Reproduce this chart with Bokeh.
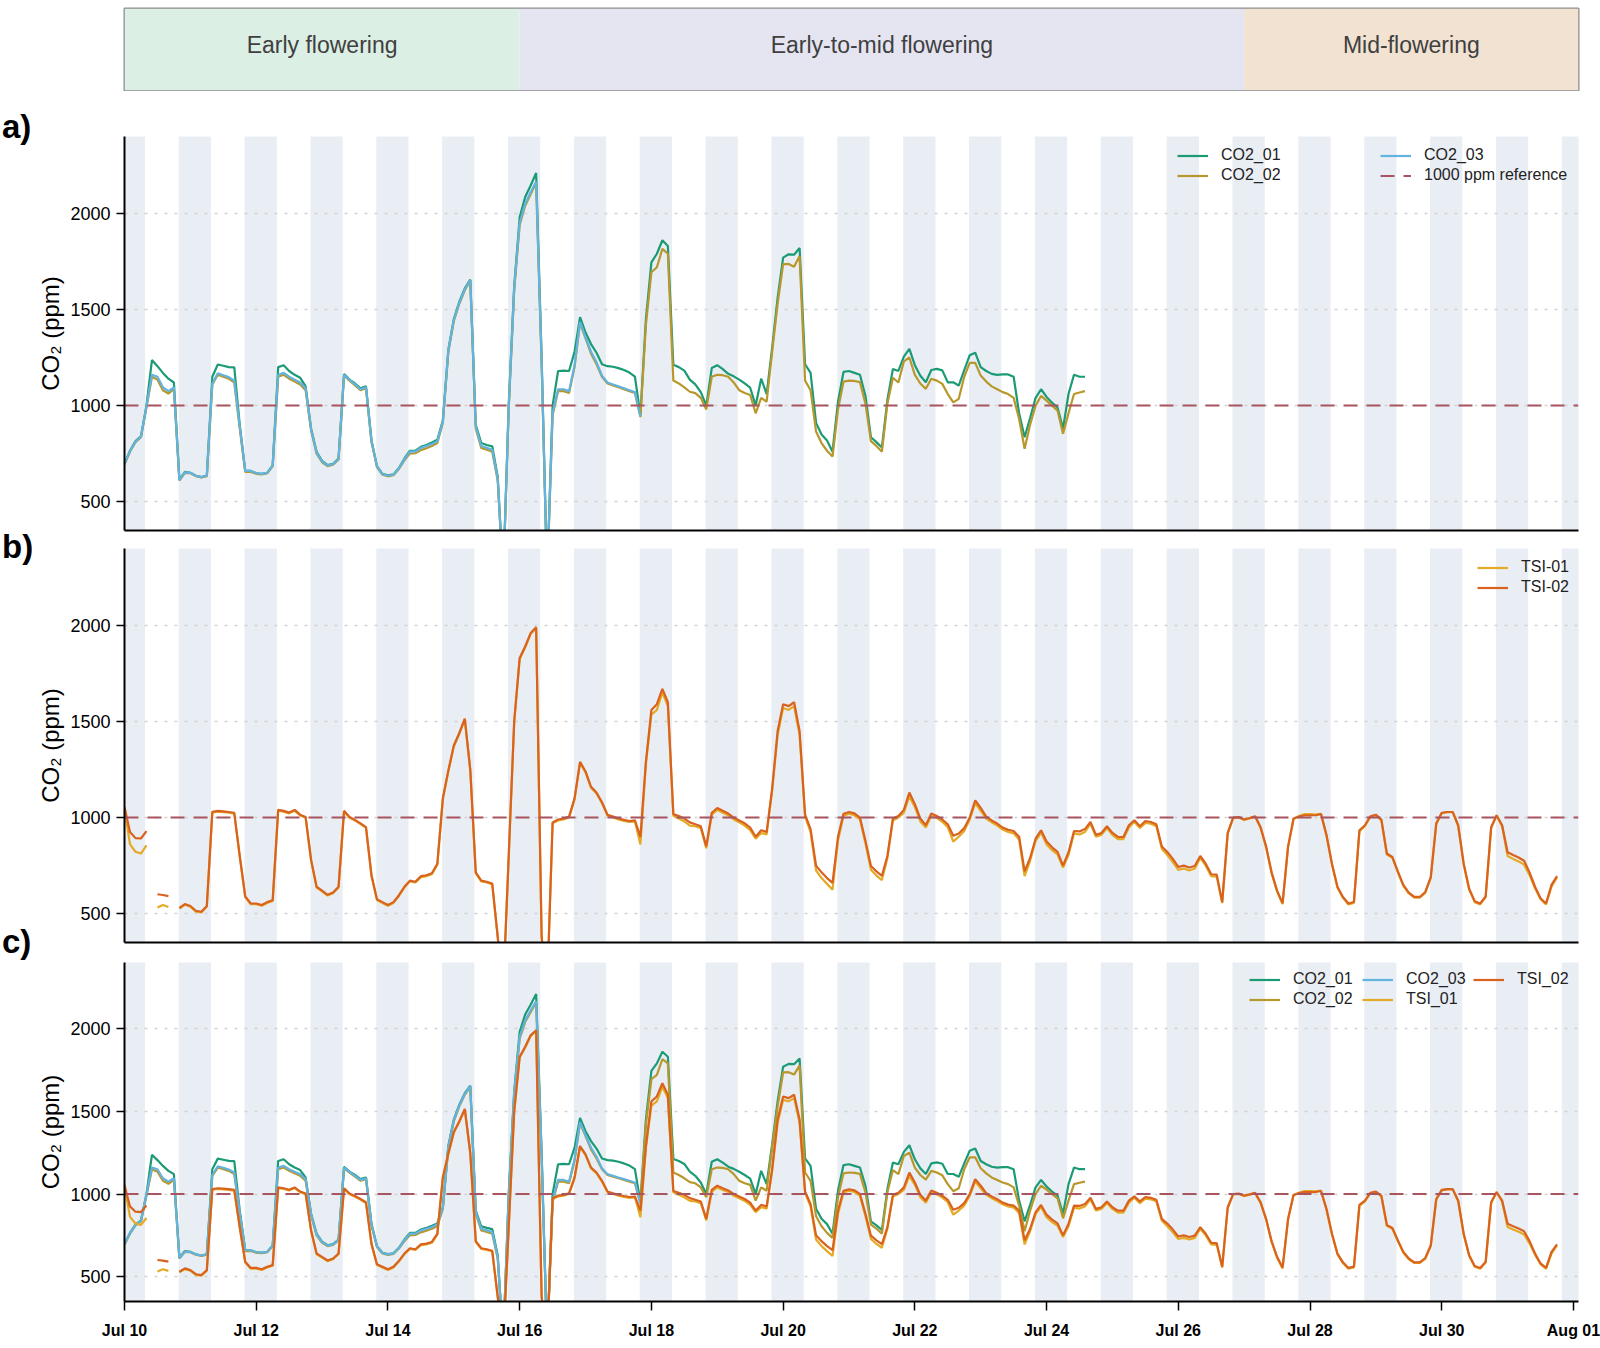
import pandas as pd
from bokeh.plotting import figure
from bokeh.layouts import column, row
from bokeh.models import (Range1d, FixedTicker, DatetimeTickFormatter, Legend,
                          LegendItem)
from bokeh.embed import file_html
from bokeh.resources import INLINE
from bokeh.core.properties import value

nan = float("nan")

# ---------------------------------------------------------------- data
series_start = "2024-07-10 00:00"
sample_step = "2h"
axis_start = "2024-07-10 00:00"
axis_end = "2024-08-01 01:50"

# CO2 sensors, ppm, every 2 h from Jul 10 00:00 (one row per day)
co2_01 = [
    697, 765, 815, 840, 1000, 1237, 1205, 1170, 1140, 1120, 615, 655,
    650, 635, 628, 635, 1150, 1214, 1207, 1200, 1199, 900, 660, 660,
    648, 645, 650, 689, 1200, 1210, 1180, 1160, 1145, 1100, 880, 760,
    712, 690, 697, 725, 1164, 1135, 1115, 1090, 1100, 820, 685, 645,
    637, 642, 675, 725, 765, 765, 785, 795, 808, 822, 922, 1290,
    1450, 1540, 1610, 1655, 900, 805, 795, 788, 630, 100, 1000, 1620,
    1980, 2085, 2145, 2210, 1250, 100, 1000, 1180, 1182, 1180, 1280, 1460,
    1380, 1320, 1275, 1215, 1205, 1202, 1195, 1185, 1172, 1150, 950, 1450,
    1745, 1790, 1860, 1830, 1212, 1200, 1182, 1135, 1110, 1070, 1000, 1195,
    1210, 1190, 1165, 1152, 1135, 1115, 1093, 1000, 1140, 1060, 1300, 1560,
    1770, 1787, 1785, 1820, 1215, 1170, 910, 850, 818, 760, 1020, 1175,
    1180, 1170, 1160, 1050, 835, 810, 782, 1030, 1190, 1180, 1255, 1295,
    1210, 1155, 1121, 1185, 1191, 1183, 1121, 1121, 1104, 1185, 1262, 1275,
    1200, 1180, 1165, 1160, 1162, 1162, 1150, 960, 835, 935, 1040, 1085,
    1045, 1015, 990, 880, 1060, 1160, 1150, 1150,
]
co2_02 = [
    695, 760, 810, 835, 990, 1150, 1135, 1080, 1062, 1085, 610, 650,
    648, 633, 626, 633, 1110, 1160, 1150, 1140, 1120, 880, 655, 655,
    645, 642, 648, 685, 1150, 1160, 1140, 1125, 1110, 1080, 870, 750,
    705, 685, 692, 720, 1155, 1130, 1105, 1080, 1090, 810, 680, 640,
    632, 638, 670, 715, 750, 752, 768, 778, 790, 805, 910, 1280,
    1440, 1530, 1600, 1650, 880, 780, 770, 760, 610, 100, 980, 1600,
    1940, 2040, 2100, 2160, 1220, 100, 950, 1075, 1075, 1065, 1200, 1430,
    1350, 1270, 1215, 1150, 1115, 1105, 1095, 1085, 1075, 1065, 940, 1420,
    1694, 1720, 1815, 1790, 1130, 1115, 1095, 1072, 1065, 1040, 980, 1150,
    1160, 1158, 1150, 1120, 1080, 1065, 1055, 960, 1040, 1020, 1280, 1530,
    1735, 1737, 1722, 1778, 1130, 1080, 865, 805, 765, 735, 980, 1125,
    1130, 1128, 1122, 1010, 815, 790, 760, 1010, 1145, 1120, 1230, 1250,
    1160, 1115, 1087, 1140, 1130, 1113, 1060, 1017, 1035, 1150, 1222, 1222,
    1156, 1125, 1100, 1085, 1070, 1060, 1040, 930, 775, 900, 1000, 1050,
    1026, 1000, 974, 853, 960, 1060, 1068, 1075,
]
co2_03 = [
    697, 762, 812, 838, 995, 1160, 1150, 1095, 1075, 1095, 612, 652,
    650, 635, 628, 635, 1115, 1168, 1158, 1148, 1130, 890, 660, 660,
    648, 645, 650, 689, 1160, 1170, 1150, 1135, 1120, 1090, 875, 755,
    710, 688, 695, 722, 1160, 1133, 1110, 1085, 1095, 815, 683, 643,
    635, 640, 673, 720, 760, 760, 780, 790, 800, 815, 915, 1285,
    1445, 1535, 1605, 1652, 890, 790, 780, 770, 620, 100, 990, 1610,
    1950, 2050, 2110, 2165, 1230, 100, 960, 1085, 1085, 1075, 1210, 1435,
    1355, 1280, 1225, 1155, 1120, 1110, 1100, 1090, 1080, 1070, 945,
]
# TSI sensors, ppm, every 2 h from Jul 10 00:00 (nan = no reading)
tsi_01 = [
    1050, 862, 822, 813, 855, nan, 532, 545, 535, nan, 527, 546,
    536, 511, 506, 536, 1026, 1031, 1028, 1025, 1021, 796, 586, 549,
    549, 541, 556, 566, 1036, 1031, 1022, 1036, 1011, 999, 776, 636,
    616, 594, 606, 636, 1031, 999, 984, 966, 946, 696, 571, 556,
    541, 556, 592, 636, 668, 662, 690, 695, 705, 755, 1095, 1240,
    1370, 1435, 1510, 1245, 710, 668, 662, 652, 375, 100, 795, 1495,
    1825, 1885, 1955, 1985, 375, 100, 970, 985, 990, 1000, 1095, 1285,
    1235, 1155, 1125, 1075, 1010, 1000, 990, 983, 977, 980, 860, 1280,
    1535, 1560, 1650, 1580, 1010, 995, 980, 958, 955, 945, 840, 1015,
    1040, 1025, 1012, 990, 975, 958, 935, 890, 920, 912, 1140, 1430,
    1570, 1560, 1580, 1430, 1005, 925, 725, 685, 655, 625, 880, 1010,
    1020, 1012, 990, 865, 728, 698, 675, 790, 985, 1000, 1025, 1110,
    1055, 980, 948, 1010, 998, 978, 950, 875, 900, 930, 990, 1075,
    1035, 995, 975, 958, 938, 925, 918, 885, 695, 775, 878, 922,
    860, 830, 808, 740, 805, 918, 912, 925, 968, 900, 910, 945,
    910, 888, 888, 948, 978, 945, 972, 968, 955, 838, 805, 768,
    728, 735, 725, 735, 790, 750, 695, 693, 555, 915, 998, 1000,
    988, 996, 1005, 945, 845, 710, 615, 550, 845, 993, 1008, 1018,
    1018, 1016, 1020, 905, 755, 635, 582, 548, 556, 928, 955, 1005,
    1012, 985, 808, 790, 715, 645, 605, 583, 583, 608, 685, 965,
    1022, 1028, 1028, 955, 755, 625, 560, 548, 585, 945, 1010, 955,
    800, 785, 772, 755, 700, 632, 575, 548, 640, 690,
]
tsi_02 = [
    1055, 925, 893, 891, 930, nan, 601, 597, 591, nan, 530, 550,
    540, 515, 510, 540, 1030, 1035, 1032, 1029, 1025, 800, 590, 553,
    553, 545, 560, 570, 1040, 1035, 1026, 1040, 1015, 1003, 780, 640,
    620, 598, 610, 640, 1035, 1003, 988, 970, 950, 700, 575, 560,
    545, 560, 596, 640, 672, 666, 695, 700, 710, 760, 1100, 1245,
    1375, 1440, 1515, 1250, 715, 672, 666, 657, 380, 100, 800, 1500,
    1830, 1890, 1960, 1990, 380, 100, 975, 990, 995, 1005, 1100, 1290,
    1240, 1160, 1130, 1080, 1015, 1005, 995, 988, 982, 985, 900, 1290,
    1560, 1590, 1670, 1600, 1018, 1008, 995, 975, 965, 955, 850, 1025,
    1050, 1035, 1021, 1000, 985, 970, 948, 900, 934, 925, 1150, 1450,
    1590, 1580, 1600, 1450, 1015, 940, 750, 715, 685, 660, 900, 1020,
    1029, 1022, 1000, 880, 748, 720, 697, 800, 995, 1008, 1040, 1130,
    1070, 995, 960, 1021, 1008, 990, 965, 905, 917, 945, 1000, 1090,
    1050, 1005, 985, 969, 948, 936, 930, 900, 720, 790, 890, 934,
    875, 845, 822, 750, 820, 930, 928, 940, 977, 910, 920, 955,
    920, 899, 899, 960, 986, 955, 982, 977, 965, 850, 821, 785,
    743, 750, 740, 748, 800, 760, 705, 703, 560, 920, 1000, 1003,
    990, 998, 1007, 950, 850, 715, 620, 555, 850, 995, 1005, 1012,
    1012, 1012, 1018, 910, 760, 640, 587, 553, 561, 934, 960, 1007,
    1015, 990, 813, 795, 720, 650, 610, 587, 587, 613, 690, 970,
    1025, 1029, 1029, 960, 760, 630, 565, 553, 590, 950, 1012, 960,
    820, 805, 792, 775, 715, 640, 580, 553, 650, 695,
]

phase_names = ["Early flowering", "Early-to-mid flowering", "Mid-flowering"]
phase_start = ["2024-07-10 00:00", "2024-07-16 00:00", "2024-07-27 00:00"]
phase_end = ["2024-07-16 00:00", "2024-07-27 00:00", "2024-08-01 01:50"]
phase_colors = ["#dcefe5", "#e5e5f2", "#f1e2d2"]

reference_ppm = 1000
y_tick_values = [500, 1000, 1500, 2000]
x_tick_dates = ["2024-07-10", "2024-07-12", "2024-07-14", "2024-07-16",
                "2024-07-18", "2024-07-20", "2024-07-22", "2024-07-24",
                "2024-07-26", "2024-07-28", "2024-07-30", "2024-08-01"]
lights_off_first = "2024-07-09 19:45"
lights_off_last = "2024-07-31 19:45"
dark_hours = 11.75

panel_tags = ["a)", "b)", "c)"]

# ---------------------------------------------------------------- style
FONT = "Liberation Sans"
NIGHT = "#e9edf4"
C_CO2_01 = "#1b9a76"
C_CO2_02 = "#b8982c"
C_CO2_03 = "#62b3df"
C_TSI_01 = "#e5aa25"
C_TSI_02 = "#d9621e"
C_REF = "#a85560"
LW = 2.2

PAGE_W = 1600
PAGE_H = 1348
TAG_W = 32            # narrow strip on the left holding the panel tags
FRAME_LEFT = 124      # page x of the plot frames
FRAME_W = 1454
B_LEFT = FRAME_LEFT - TAG_W
B_RIGHT = PAGE_W - FRAME_LEFT - FRAME_W

t_co2 = pd.date_range(series_start, periods=len(co2_01), freq=sample_step)
t_co2_3 = pd.date_range(series_start, periods=len(co2_03), freq=sample_step)
t_tsi = pd.date_range(series_start, periods=len(tsi_01), freq=sample_step)

night_starts = pd.date_range(lights_off_first, lights_off_last, freq="D")
night_ends = night_starts + pd.Timedelta(hours=dark_hours)

x0 = pd.Timestamp(axis_start)
x1 = pd.Timestamp(axis_end)
X_RANGE = Range1d(x0, x1)


def make_panel(frame_h, b_top, b_bottom, x_labels):
    p = figure(x_axis_type="datetime", x_range=X_RANGE, y_range=Range1d(350, 2400),
               frame_width=FRAME_W, frame_height=frame_h,
               min_border_left=B_LEFT, min_border_right=B_RIGHT,
               min_border_top=b_top, min_border_bottom=b_bottom,
               toolbar_location=None, output_backend="svg",
               outline_line_color=None, background_fill_color="white",
               border_fill_color="white")
    p.quad(left=night_starts, right=night_ends, bottom=-5000, top=50000,
           fill_color=NIGHT, line_color=None, level="image")
    p.xgrid.visible = False
    p.ygrid.ticker = FixedTicker(ticks=y_tick_values)
    p.ygrid.grid_line_color = "#d2d2d2"
    p.ygrid.grid_line_dash = "3 7"
    p.ygrid.grid_line_width = 1.3

    ya = p.yaxis[0]
    ya.ticker = FixedTicker(ticks=y_tick_values)
    ya.axis_label = "CO\u2082 (ppm)"
    ya.axis_label_text_font = FONT
    ya.axis_label_text_font_size = "24px"
    ya.axis_label_text_font_style = "normal"
    ya.axis_label_text_color = "black"
    ya.axis_label_standoff = 3
    ya.major_label_text_font = FONT
    ya.major_label_text_font_size = "18px"
    ya.major_label_text_color = "black"
    ya.major_label_standoff = 6
    ya.major_tick_out = 8
    ya.major_tick_in = 0
    ya.minor_tick_out = 0
    ya.minor_tick_in = 0
    ya.axis_line_width = 2
    ya.axis_line_color = "black"
    ya.major_tick_line_width = 1.5

    xa = p.xaxis[0]
    xa.axis_line_width = 2
    xa.axis_line_color = "black"
    xa.minor_tick_out = 0
    xa.minor_tick_in = 0
    if x_labels:
        xa.ticker = FixedTicker(ticks=[pd.Timestamp(d).value / 1e6 for d in x_tick_dates])
        xa.formatter = DatetimeTickFormatter(days="%b %d", months="%b %d")
        xa.major_tick_out = 9
        xa.major_tick_in = 0
        xa.major_tick_line_width = 1.5
        xa.major_label_standoff = 11
        xa.major_label_text_font = FONT
        xa.major_label_text_font_size = "16px"
        xa.major_label_text_font_style = "bold"
        xa.major_label_text_color = "black"
    else:
        xa.ticker = FixedTicker(ticks=[])
        xa.major_tick_out = 0
        xa.major_tick_in = 0
        xa.major_label_standoff = 0
    return p


def ref_line(p):
    return p.line([x0, x1], [reference_ppm, reference_ppm], line_color=C_REF,
                  line_width=2, line_dash="14 9")


def add_legend(p, items, loc):
    lg = Legend(items=[LegendItem(label=l, renderers=[r]) for l, r in items],
                location=loc, orientation="vertical",
                background_fill_alpha=0, border_line_alpha=0,
                padding=0, margin=0, spacing=1,
                glyph_width=31, glyph_height=19, label_height=19,
                label_standoff=13, label_text_font=FONT,
                label_text_font_size="16px", label_text_color="#222222")
    p.add_layout(lg)


# ---------------------------------------------------------------- banner
p0 = figure(x_axis_type="datetime", x_range=X_RANGE, y_range=Range1d(0, 1),
            frame_width=FRAME_W, frame_height=82,
            min_border_left=B_LEFT, min_border_right=B_RIGHT,
            min_border_top=8, min_border_bottom=1,
            x_axis_location=None, y_axis_location=None,
            toolbar_location=None, output_backend="svg",
            outline_line_color="#8c8c8c", outline_line_width=2)
p0.grid.visible = False
ps = pd.to_datetime(phase_start)
pe = pd.to_datetime(phase_end)
p0.quad(left=ps, right=pe, bottom=0, top=1, fill_color=phase_colors, line_color=None)
mids = ps + (pe - ps) / 2
p0.text(x=mids, y=[0.55] * len(phase_names), text=phase_names,
        text_align="center", text_baseline="middle",
        text_font=value(FONT), text_font_size="23px", text_color="#404040")

# ---------------------------------------------------------------- panel a
pa = make_panel(394, 45, 4, False)
ra1 = pa.line(t_co2, co2_01, line_color=C_CO2_01, line_width=LW)
ra2 = pa.line(t_co2, co2_02, line_color=C_CO2_02, line_width=LW)
ra3 = pa.line(t_co2_3, co2_03, line_color=C_CO2_03, line_width=LW)
raref = ref_line(pa)
add_legend(pa, [("CO2_01", ra1), ("CO2_02", ra2)], (1053, 345.5))
add_legend(pa, [("CO2_03", ra3), ("1000 ppm reference", raref)], (1256, 345.5))

# ---------------------------------------------------------------- panel b
pb = make_panel(394, 14, 20, False)
rb1 = pb.line(t_tsi, tsi_01, line_color=C_TSI_01, line_width=LW)
rb2 = pb.line(t_tsi, tsi_02, line_color=C_TSI_02, line_width=LW)
ref_line(pb)
add_legend(pb, [("TSI-01", rb1), ("TSI-02", rb2)], (1353, 345.5))

# ---------------------------------------------------------------- panel c
pc = make_panel(339, 0, 47, True)
rc1 = pc.line(t_co2, co2_01, line_color=C_CO2_01, line_width=LW)
rc2 = pc.line(t_co2, co2_02, line_color=C_CO2_02, line_width=LW)
rc3 = pc.line(t_co2_3, co2_03, line_color=C_CO2_03, line_width=LW)
rc4 = pc.line(t_tsi, tsi_01, line_color=C_TSI_01, line_width=LW)
rc5 = pc.line(t_tsi, tsi_02, line_color=C_TSI_02, line_width=LW)
ref_line(pc)
add_legend(pc, [("CO2_01", rc1), ("CO2_02", rc2)], (1125, 292.5))
add_legend(pc, [("CO2_03", rc3), ("TSI_01", rc4)], (1238, 292.5))
add_legend(pc, [("TSI_02", rc5)], (1349, 312.5))

# ---------------------------------------------------------------- panel tags strip
tags = figure(x_range=Range1d(0, TAG_W), y_range=Range1d(PAGE_H, 0),
              frame_width=TAG_W, frame_height=PAGE_H,
              min_border_left=0, min_border_right=0, min_border_top=0,
              min_border_bottom=0, x_axis_location=None, y_axis_location=None,
              toolbar_location=None, output_backend="svg", outline_line_color=None)
tags.grid.visible = False
tags.text(x=[1.5, 1.5, 1.5], y=[107, 527, 922], text=panel_tags,
          text_align="left", text_baseline="top",
          text_font=value(FONT), text_font_size="33px", text_font_style="bold",
          text_color="black")

layout = row(tags, column(p0, pa, pb, pc, spacing=0), spacing=0)

with open("out.html", "w") as f:
    f.write(file_html(layout, INLINE, title="CO2 sensors"))
